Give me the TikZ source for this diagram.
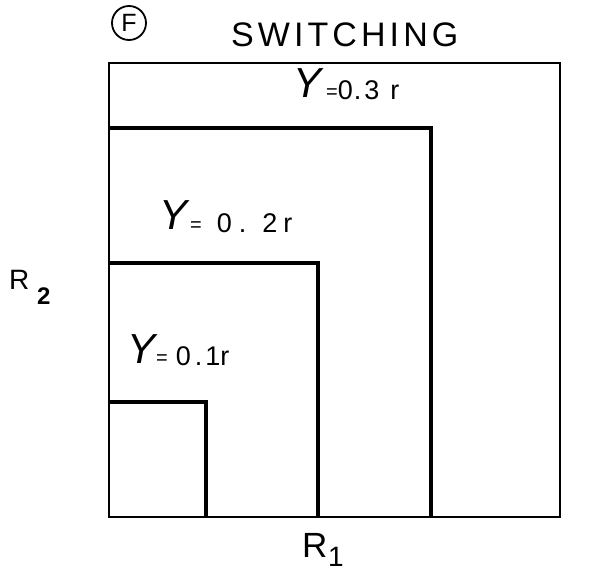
\documentclass[tikz,border=0pt]{standalone}
\usepackage{fontspec}
\setmainfont{Liberation Sans}
\newfontfamily\spaced[LetterSpace=12]{Liberation Sans}
\newcommand{\eqsmall}{{\fontsize{20}{20}\selectfont\raisebox{1pt}{=}}}
\begin{document}
\begin{tikzpicture}[x=1pt,y=-1pt,
  thinline/.style={line width=2pt},
  thickline/.style={line width=3.4pt},
  lbl/.style={inner sep=0pt,anchor=base west},
  yglyph/.style={inner sep=0pt,anchor=base west,font=\fontsize{42}{42}\selectfont\itshape},
  numtxt/.style={inner sep=0pt,anchor=base west,font=\fontsize{27}{27}\selectfont}]
\useasboundingbox (0,0) rectangle (614,572);
% outer square
\draw[thinline] (109,63) rectangle (560,517);
% regions
\draw[thickline] (109,128) -- (431,128) -- (431,517);
\draw[thickline] (109,263) -- (318,263) -- (318,517);
\draw[thickline] (109,402) -- (206,402) -- (206,517);
% title
\node[circle,draw,line width=1.8pt,minimum size=34pt,inner sep=0pt,font=\fontsize{25}{25}\selectfont] (F) at (129,23) {F};
\node[lbl,font=\fontsize{34}{34}\selectfont\spaced] (title) at (231,47) {SWITCHING};
% labels
\node[yglyph] (y3) at (293,98) {Y};
\node[numtxt] (v3) at (326,100) {\eqsmall0\hspace{1pt}.\hspace{3pt}3\hspace{11pt}r};
\node[yglyph] (y2) at (159,230) {Y};
\node[numtxt] (v2) at (190,233) {\eqsmall\hspace{15pt}0\hspace{7pt}.\hspace{16pt}2\hspace{6pt}r};
\node[yglyph] (y1) at (127,364) {Y};
\node[numtxt] (v1) at (156,366) {\eqsmall\hspace{8pt}0\hspace{4pt}.\hspace{3pt}1r};
% axes
\node[lbl,font=\fontsize{28}{28}\selectfont] (R2) at (9,290) {R};
\node[lbl,font=\fontsize{24}{24}\selectfont\bfseries] (R2s) at (37,305) {2};
\node[lbl,font=\fontsize{35}{35}\selectfont] (R1) at (302,557) {R};
\node[lbl,font=\fontsize{28}{28}\selectfont] (R1s) at (328,566) {1};
\end{tikzpicture}
\end{document}
